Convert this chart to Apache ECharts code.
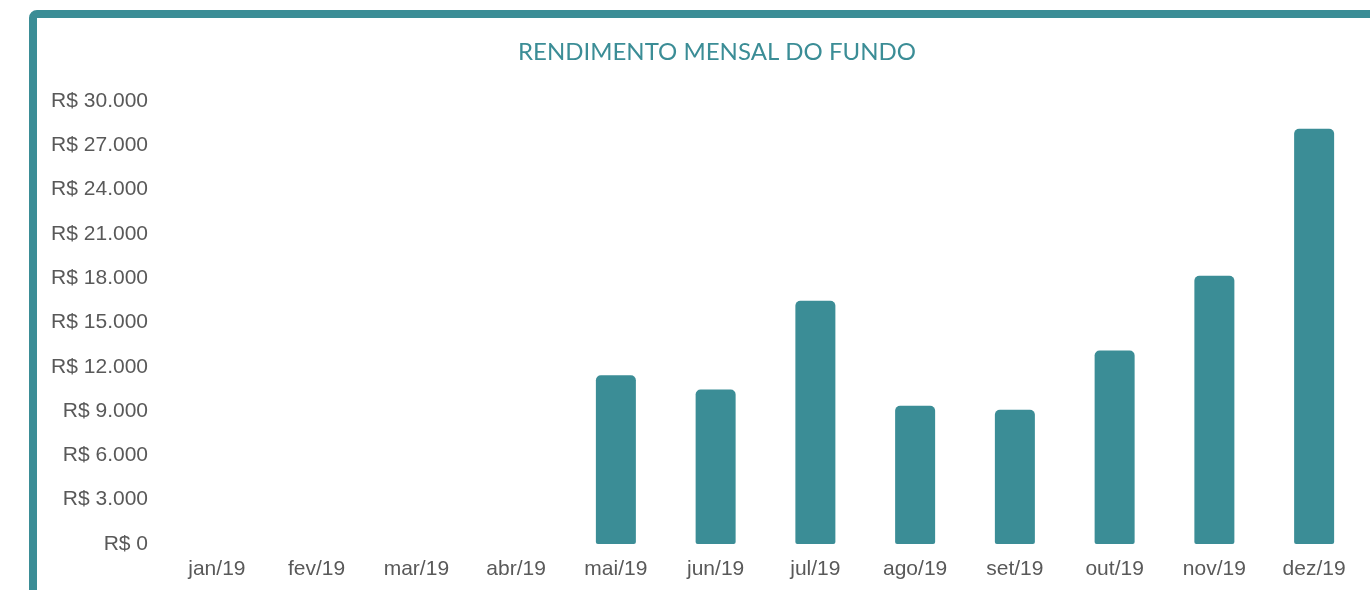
<!DOCTYPE html>
<html>
<head>
<meta charset="utf-8">
<script src="https://cdn.jsdelivr.net/npm/echarts@6/dist/echarts.min.js"></script>
<style>
  html, body { margin: 0; padding: 0; background: #ffffff; }
  #chart { width: 1370px; height: 590px; }
</style>
</head>
<body>
<div id="chart"></div>
<script>
// Dados do gráfico
const meses = ['jan/19', 'fev/19', 'mar/19', 'abr/19', 'mai/19', 'jun/19',
               'jul/19', 'ago/19', 'set/19', 'out/19', 'nov/19', 'dez/19'];
const rendimentos = [0, 0, 0, 0, 11430, 10460, 16470, 9360, 9090, 13100, 18160, 28120];
const eixoMin = 0;
const eixoMax = 30000;
const eixoPasso = 3000;

const corTeal = '#3b8d96';
const corTexto = '#595959';

function formatarReal(v) {
    return 'R$ ' + String(v).replace(/\B(?=(\d{3})+(?!\d))/g, '.');
}

const chart = echarts.init(document.getElementById('chart'));
chart.setOption({
    backgroundColor: '#ffffff',
    animation: false,
    title: {
        text: 'RENDIMENTO MENSAL DO FUNDO',
        left: 712,
        textAlign: 'center',
        top: 35,
        textStyle: { color: corTeal, fontFamily: 'Lato', fontWeight: 'normal', fontSize: 24 }
    },
    graphic: [{
        // moldura (borda superior e esquerda)
        type: 'rect',
        shape: { x: 33, y: 14, width: 1400, height: 640, r: 4 },
        style: { fill: null, stroke: corTeal, lineWidth: 8 },
        silent: true
    }],
    grid: { left: 167, right: 6, top: 101, bottom: 46 },
    xAxis: {
        type: 'category',
        data: meses,
        axisLine: { show: false },
        axisTick: { show: false },
        axisLabel: { color: corTexto, fontFamily: 'Liberation Sans', fontSize: 21, margin: 15, interval: 0 }
    },
    yAxis: {
        type: 'value',
        min: eixoMin,
        max: eixoMax,
        interval: eixoPasso,
        axisLine: { show: false },
        axisTick: { show: false },
        splitLine: { show: false },
        axisLabel: {
            color: corTexto, fontFamily: 'Liberation Sans', fontSize: 21, margin: 19,
            formatter: formatarReal
        }
    },
    series: [{
        type: 'bar',
        data: rendimentos,
        barWidth: 40,
        itemStyle: { color: corTeal, borderRadius: [5, 5, 2, 2] }
    }]
});
</script>
</body>
</html>
